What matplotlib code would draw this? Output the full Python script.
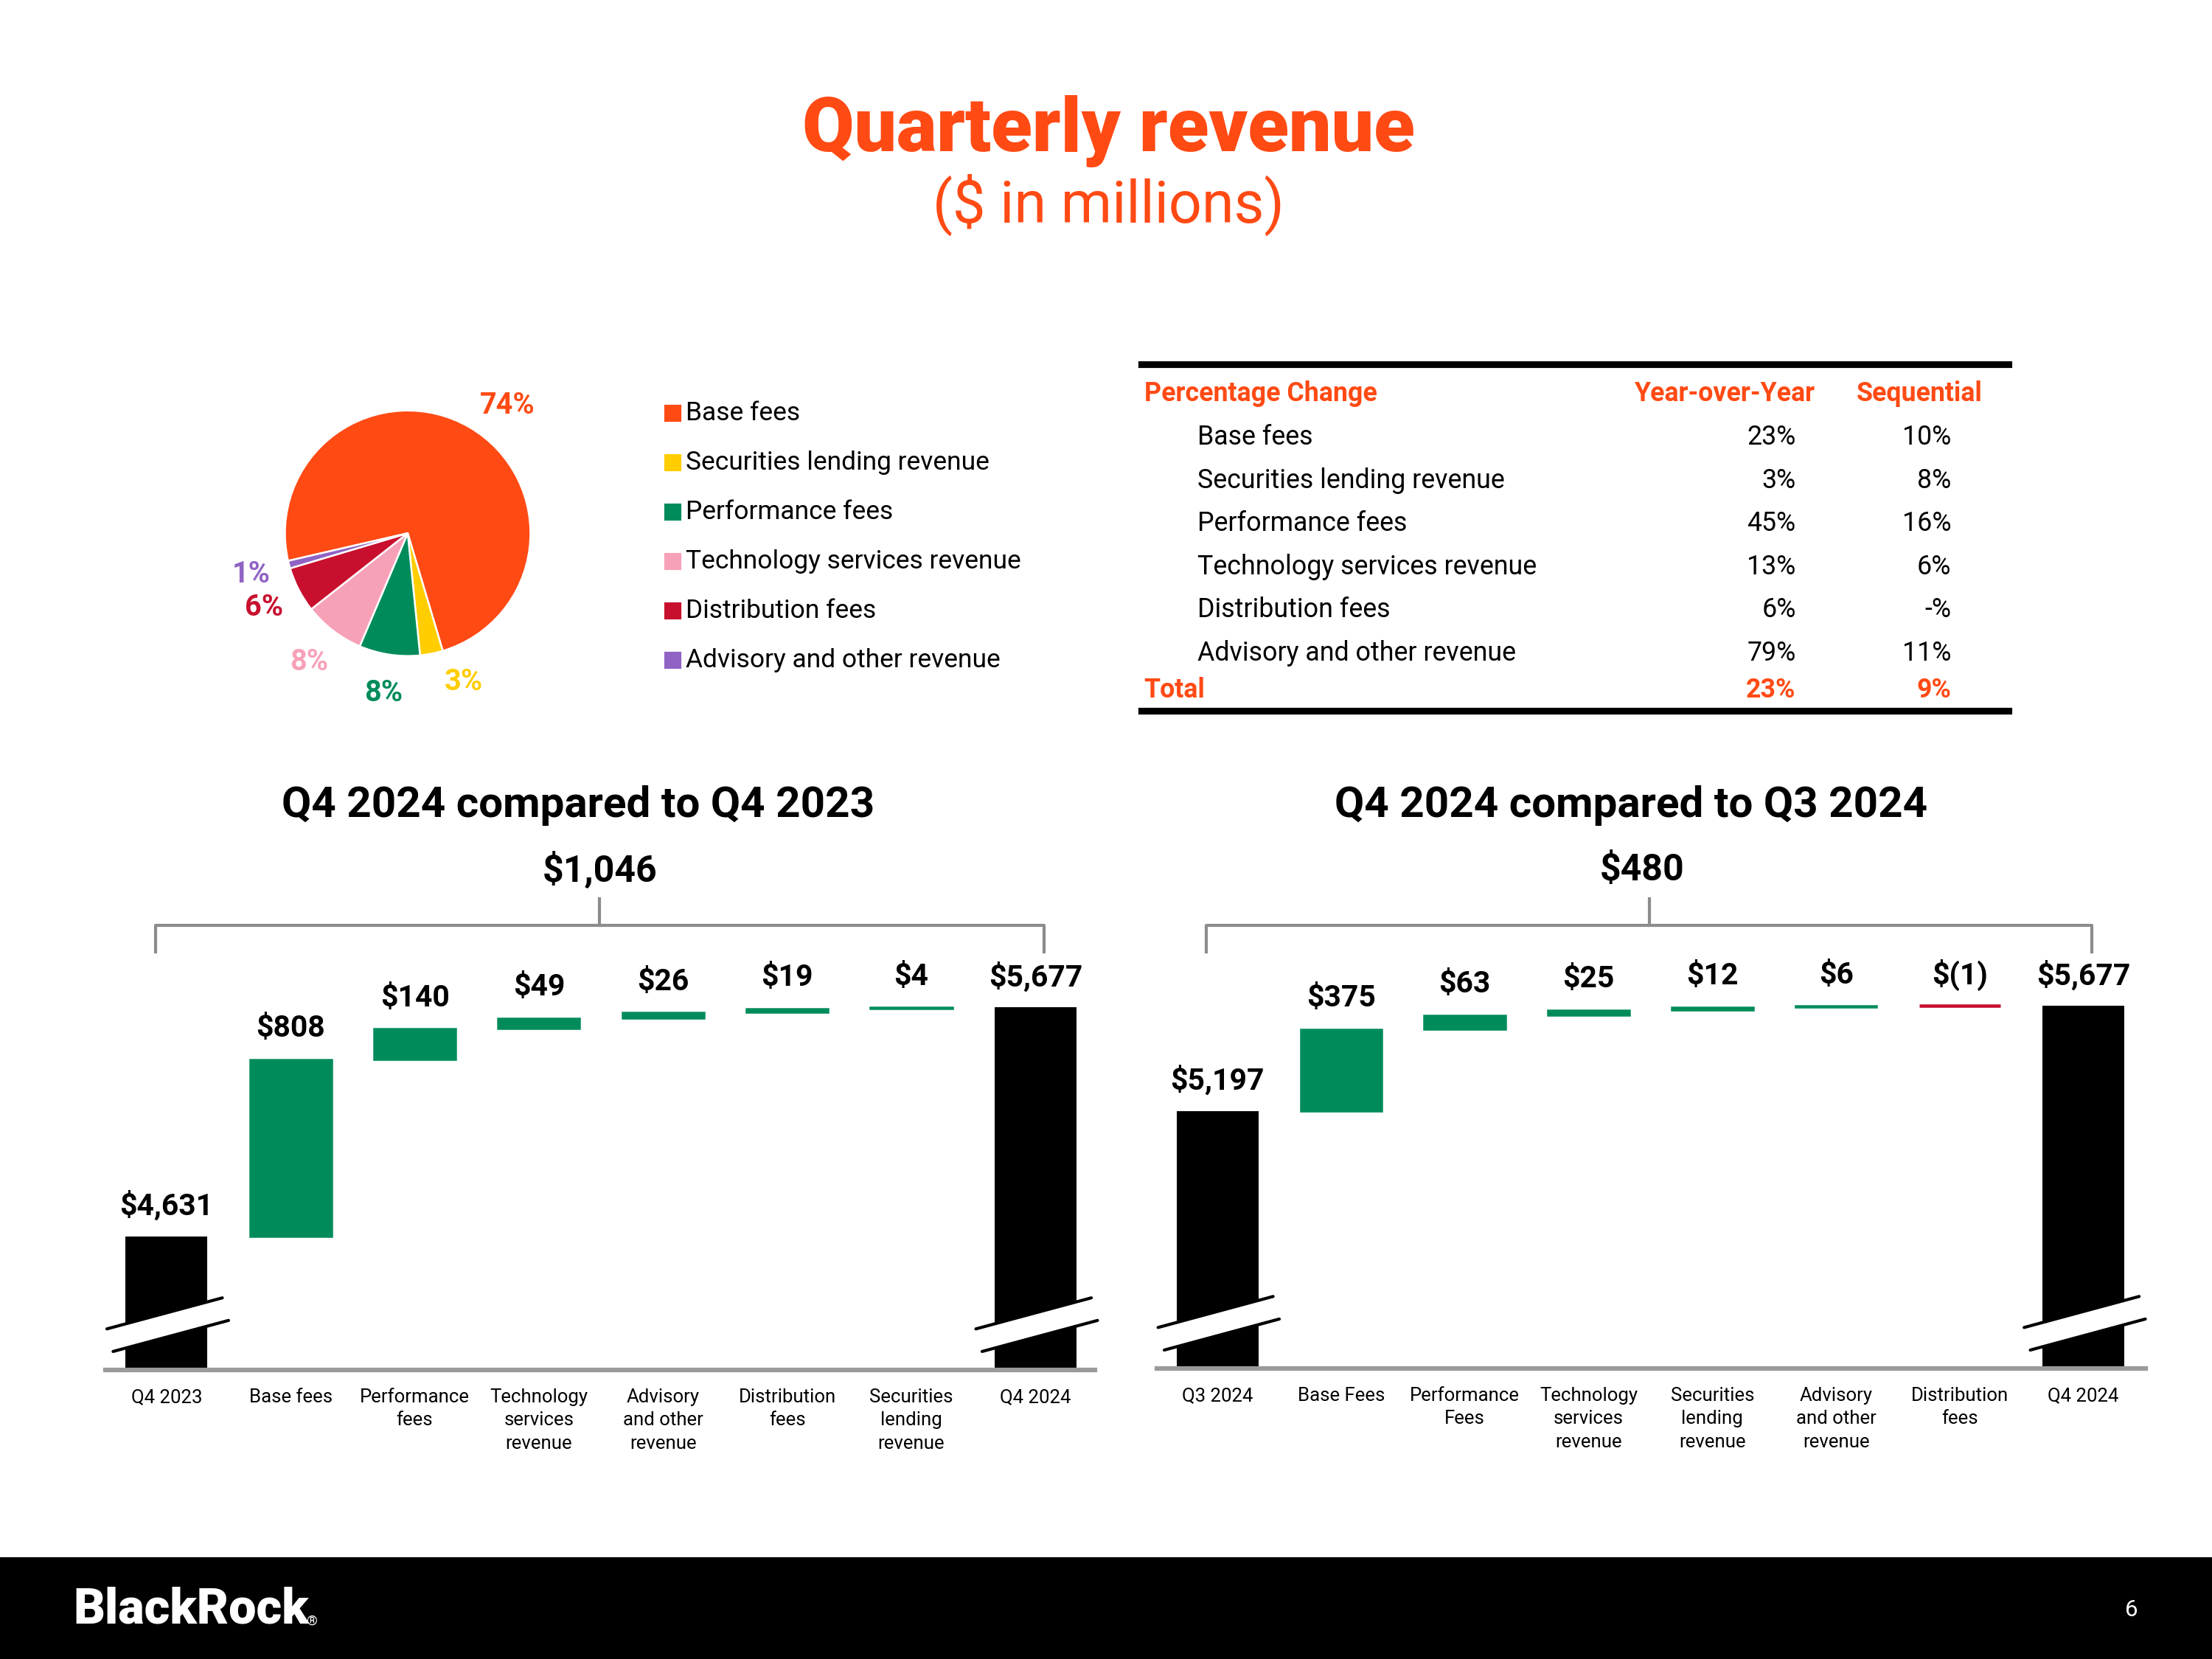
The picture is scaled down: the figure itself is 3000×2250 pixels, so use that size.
import matplotlib.pyplot as plt
from matplotlib.patches import Rectangle, Polygon
from matplotlib.lines import Line2D
import matplotlib.transforms as mtransforms

plt.rcParams["font.family"] = ["Roboto", "DejaVu Sans"]

ORANGE = "#FF4A14"
GREEN = "#008C5A"
RED = "#C8102E"
GRAY = "#8C8C8C"

# pie: revenue mix (%)
mix_labels = ["Base fees", "Securities lending revenue", "Performance fees",
              "Technology services revenue", "Distribution fees",
              "Advisory and other revenue"]
mix_values = [74, 3, 8, 8, 6, 1]
mix_colors = [ORANGE, "#FFCD00", GREEN, "#F7A1B8", RED, "#9063C4"]

# percentage change table
tbl_rows = ["Base fees", "Securities lending revenue", "Performance fees",
            "Technology services revenue", "Distribution fees",
            "Advisory and other revenue"]
tbl_yoy = ["23%", "3%", "45%", "13%", "6%", "79%"]
tbl_seq = ["10%", "8%", "16%", "6%", "-%", "11%"]
tbl_total = ["23%", "9%"]

# waterfall: Q4 2024 vs Q4 2023
yoy_start = ("Q4 2023", 4631)
yoy_cats = ["Base fees", "Performance\nfees", "Technology\nservices\nrevenue",
            "Advisory\nand other\nrevenue", "Distribution\nfees",
            "Securities\nlending\nrevenue"]
yoy_deltas = [808, 140, 49, 26, 19, 4]
yoy_end = "Q4 2024"

# waterfall: Q4 2024 vs Q3 2024
seq_start = ("Q3 2024", 5197)
seq_cats = ["Base Fees", "Performance\nFees", "Technology\nservices\nrevenue",
            "Securities\nlending\nrevenue", "Advisory\nand other\nrevenue",
            "Distribution\nfees"]
seq_deltas = [375, 63, 25, 12, 6, -1]
seq_end = "Q4 2024"

W, H = 1568, 1176


def fx(x):
    return x / W


def fy(y):
    return 1 - y / H


fig = plt.figure(figsize=(10, 7.5), dpi=300)

# titles
fig.text(fx(786), fy(93), "Quarterly revenue", color=ORANGE, fontsize=24.5,
         fontweight="black", ha="center", va="center")
fig.text(fx(786), fy(145), "($ in millions)", color=ORANGE, fontsize=19,
         ha="center", va="center")

# pie
r = 87
ax_pie = fig.add_axes([fx(289 - r), fy(378 + r), 2 * r / W, 2 * r / H])
wedges, texts, autotexts = ax_pie.pie(
    mix_values, colors=mix_colors, startangle=193, counterclock=False,
    autopct=lambda p: f"{p:.0f}%", pctdistance=1.32,
    wedgeprops=dict(edgecolor="white", linewidth=0.6))
for t, c in zip(autotexts, mix_colors):
    t.set_color(c)
    t.set_fontweight("bold")
    t.set_fontsize(9.5)
# nudge the two labels that sit off their wedge's mid-angle in the original
x, y = autotexts[0].get_position()
autotexts[0].set_position((x + 0.15, y - 0.1))
x, y = autotexts[1].get_position()
autotexts[1].set_position((x + 0.2, y + 0.08))
ax_pie.set_xlim(-1, 1)
ax_pie.set_ylim(-1, 1)

# legend
for i, (lab, col) in enumerate(zip(mix_labels, mix_colors)):
    y = 293 + 35 * i
    fig.patches.append(Rectangle((fx(472), fy(y + 5)), 10 / W, 10 / H,
                                 transform=fig.transFigure, color=col))
    fig.text(fx(486), fy(y), lab, fontsize=8.5, va="center", ha="left")

# table
TS = 8.6
for y in (258, 504):
    fig.add_artist(Line2D([fx(809), fx(1424)], [fy(y), fy(y)], color="black",
                          linewidth=2.2, transform=fig.transFigure))
fig.text(fx(811), fy(279), "Percentage Change", color=ORANGE, fontsize=TS,
         fontweight="bold", va="center")
fig.text(fx(1287), fy(279), "Year-over-Year", color=ORANGE, fontsize=TS,
         fontweight="bold", va="center", ha="right")
fig.text(fx(1405), fy(279), "Sequential", color=ORANGE, fontsize=TS,
         fontweight="bold", va="center", ha="right")
for i, (lab, a, b) in enumerate(zip(tbl_rows, tbl_yoy, tbl_seq)):
    y = 310 + 30.6 * i
    fig.text(fx(849), fy(y), lab, fontsize=TS, va="center")
    fig.text(fx(1273), fy(y), a, fontsize=TS, va="center", ha="right")
    fig.text(fx(1383), fy(y), b, fontsize=TS, va="center", ha="right")
fig.text(fx(811), fy(489), "Total", color=ORANGE, fontsize=TS,
         fontweight="bold", va="center")
fig.text(fx(1273), fy(489), tbl_total[0], color=ORANGE, fontsize=TS,
         fontweight="bold", va="center", ha="right")
fig.text(fx(1383), fy(489), tbl_total[1], color=ORANGE, fontsize=TS,
         fontweight="bold", va="center", ha="right")

PX_PER_UNIT = 0.155
Y0 = 4020


def money(v):
    return f"${v:,}" if v >= 0 else f"$({abs(v):,})"


def waterfall(x_left, x_right, x_first, pitch, y_base, title, title_x,
              start, cats, deltas, end_label, total_label, total_x):
    y_top = 600
    ax = fig.add_axes([fx(x_left), fy(y_base), (x_right - x_left) / W,
                       (y_base - y_top) / H])
    ax.set_xlim((x_left - x_first) / pitch, (x_right - x_first) / pitch)
    ax.set_ylim(Y0, Y0 + (y_base - y_top) / PX_PER_UNIT)

    start_label, start_value = start
    labels = [start_label] + cats + [end_label]
    n = len(labels)
    lab_kw = dict(xytext=(0, 10), textcoords="offset points", ha="center",
                  va="center", fontsize=9.8, fontweight="bold")

    # start bar
    ax.bar(0, start_value, width=0.66, color="black")
    ax.annotate(money(start_value), (0, start_value), **lab_kw)
    cum = start_value
    for i, d in enumerate(deltas, start=1):
        bottom = cum if d >= 0 else cum + d
        col = GREEN if d >= 0 else RED
        ax.bar(i, abs(d), bottom=bottom, width=0.66, color=col,
               edgecolor=col, linewidth=0.6 if d >= 0 else 1.1)
        ax.annotate(money(d), (i, max(cum, cum + d)), **lab_kw)
        cum += d
    ax.bar(n - 1, cum, width=0.66, color="black")
    ax.annotate(money(cum), (n - 1, cum), **lab_kw)

    # axis break marks on the total bars
    def py(p):
        return Y0 + p / PX_PER_UNIT
    for c in (0, n - 1):
        up = [(c - 0.48, py(29)), (c + 0.45, py(51))]
        lo = [(c - 0.43, py(13)), (c + 0.50, py(35))]
        ax.add_patch(Polygon([up[0], up[1], lo[1], lo[0]], closed=True,
                             facecolor="white", edgecolor="none",
                             clip_on=False, zorder=3))
        for seg in (up, lo):
            ax.plot([seg[0][0], seg[1][0]], [seg[0][1], seg[1][1]],
                    color="black", linewidth=1.0, clip_on=False, zorder=4,
                    solid_capstyle="round")

    ax.set_xticks(range(n))
    ax.set_xticklabels(labels, fontsize=6.2, linespacing=1.4)
    ax.tick_params(axis="x", length=0, pad=6)
    ax.set_yticks([])
    for s in ("top", "left", "right"):
        ax.spines[s].set_visible(False)
    ax.spines["bottom"].set_color("#9A9A9A")
    ax.spines["bottom"].set_linewidth(1.5)

    # bracket with total change
    tr = mtransforms.blended_transform_factory(ax.transData, fig.transFigure)
    bl, br = -0.09, n - 1 + 0.07
    mid = (bl + br) / 2
    ax.add_artist(Line2D([bl, bl, br, br], [fy(675), fy(656), fy(656), fy(675)],
                         color=GRAY, linewidth=1.0, transform=tr,
                         clip_on=False))
    ax.add_artist(Line2D([mid, mid], [fy(656), fy(637)], color=GRAY,
                         linewidth=1.0, transform=tr, clip_on=False))
    fig.text(fx(total_x), fy(617), total_label, fontsize=12,
             fontweight="bold", ha="center", va="center")
    fig.text(fx(title_x), fy(571), title, fontsize=14, fontweight="bold",
             ha="center", va="center")
    return ax


waterfall(75, 776, 118, 88, 971, "Q4 2024 compared to Q4 2023", 410,
          yoy_start, yoy_cats, yoy_deltas, yoy_end,
          money(sum(yoy_deltas)), 425)
waterfall(820, 1521, 863, 87.7, 970, "Q4 2024 compared to Q3 2024", 1156,
          seq_start, seq_cats, seq_deltas, seq_end,
          money(sum(seq_deltas)), 1164)

# footer
fig.patches.append(Rectangle((0, 0), 1, fy(1105), transform=fig.transFigure,
                             color="black"))
fig.text(fx(52), fy(1141), "BlackRock", color="white", fontsize=16,
         fontweight="black", va="center", ha="left")
fig.text(fx(221), fy(1149), "®", color="white", fontsize=4.5,
         va="center", ha="center")
fig.text(fx(1511), fy(1141), "6", color="white", fontsize=7.5,
         va="center", ha="center")

fig.savefig("out.png", dpi=300, facecolor="white")
